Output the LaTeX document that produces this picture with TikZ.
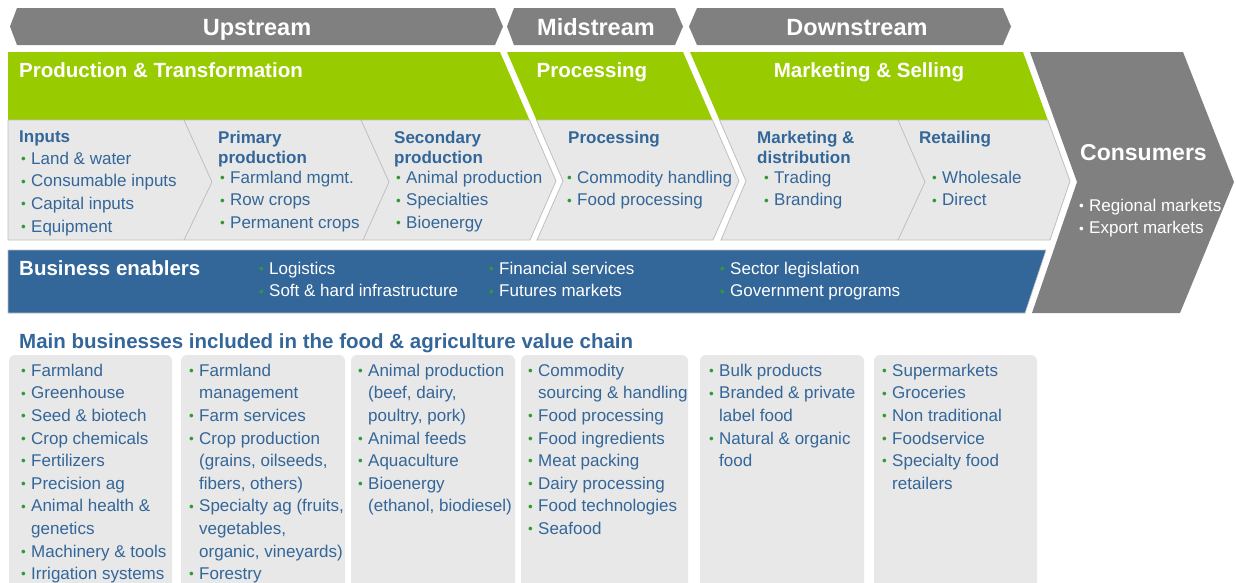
\documentclass[tikz,border=0pt]{standalone}
\usepackage{fontspec}
\setmainfont{Liberation Sans}
\usepackage{tikz}

\definecolor{bandgray}{HTML}{808080}
\definecolor{leafgreen}{HTML}{99CC00}
\definecolor{steelblue}{HTML}{336699}
\definecolor{panelgray}{HTML}{E8E8E8}
\definecolor{edgegray}{HTML}{BFBFBF}
\definecolor{dotgreen}{HTML}{339933}

\newcommand{\smalldot}{\raisebox{0.8pt}{\fontsize{13.5}{13.5}\selectfont\textbullet}}
\newcommand{\bul}{\makebox[10pt][l]{\color{dotgreen}\smalldot}}
\newcommand{\wbul}{\makebox[10pt][l]{\smalldot}}
\newcommand{\ind}{\hspace*{10pt}}

\begin{document}
\begin{tikzpicture}[x=1pt,y=-1pt,line join=miter]
  \tikzstyle{banner} = [fill=bandgray]
  \tikzstyle{stage} = [fill=leafgreen]
  \tikzstyle{stepbox} = [fill=panelgray, draw=edgegray, line width=0.8pt]
  \tikzstyle{bantext} = [text=white, inner sep=0pt, anchor=base, font=\bfseries\fontsize{23.5}{27}\selectfont]
  \tikzstyle{stagetext} = [text=white, inner sep=0pt, anchor=base, font=\bfseries\fontsize{20.5}{24}\selectfont]
  \tikzstyle{head} = [anchor=north west, inner sep=0pt, align=left, text=steelblue,
                      font=\bfseries\fontsize{17}{20}\selectfont]
  \tikzstyle{items} = [anchor=north west, inner sep=0pt, align=left, text=steelblue,
                       font=\fontsize{17}{22.6}\selectfont]
  \tikzstyle{business} = [fill=panelgray, rounded corners=6pt]

  \useasboundingbox (0,0) rectangle (1236,582);

  \fill[banner] (10,26.5) -- (17,8) -- (495,8) -- (503,26.5) -- (495,45) -- (17,45) -- cycle;
  \fill[banner] (507,26.5) -- (514,8) -- (675,8) -- (683,26.5) -- (675,45) -- (514,45) -- cycle;
  \fill[banner] (689,26.5) -- (697,8) -- (1003,8) -- (1011,26.5) -- (1003,45) -- (697,45) -- cycle;

  \fill[stage] (8,52) -- (500,52) -- (529.5,120) -- (8,120) -- cycle;
  \fill[stage] (507,52) -- (683,52) -- (712.5,120) -- (536.5,120) -- cycle;
  \fill[stage] (690,52) -- (1023,52) -- (1047.8,120) -- (719.5,120) -- cycle;

  \path[stepbox] (8,120) -- (529.5,120) -- (556,181) -- (530,240) -- (8,240) -- cycle;
  \path[stepbox] (536.5,120) -- (712.5,120) -- (739,181) -- (713,240) -- (537,240) -- (563,181) -- cycle;
  \path[stepbox] (719.5,120) -- (1047.8,120) -- (1070,181) -- (1050,240) -- (721,240) -- (746,181) -- cycle;
  \draw[edgegray, line width=0.8pt] (184,120) -- (212,182) -- (184,240);
  \draw[edgegray, line width=0.8pt] (361,120) -- (389,182) -- (363,240);
  \draw[edgegray, line width=0.8pt] (898,120) -- (925,182) -- (898,240);

  \path[fill=steelblue, draw=edgegray, line width=0.6pt] (8,250) -- (1046,250) -- (1025,313) -- (8,313) -- cycle;
  \fill[banner] (1030,52) -- (1183,52) -- (1234,182) -- (1180,313) -- (1032,313) -- (1077,182) -- cycle;

  \foreach \x/\w in {9/163, 181/164, 351/164, 521/167, 700/164, 874/163}
    \fill[business] (\x,355) rectangle ++(\w,250);

  \node (upstream) [bantext] at (257,35.5) {Upstream};
  \node (midstream) [bantext] at (596,35.5) {Midstream};
  \node (downstream) [bantext] at (857,35.5) {Downstream};

  \node (production) [stagetext, anchor=base west] at (19,77.5) {Production \& Transformation};
  \node (processing) [stagetext] at (592,77.5) {Processing};
  \node (marketing) [stagetext] at (869,77.5) {Marketing \& Selling};

  \node (inputs) [head] at (19,130.7) {Inputs};
  \node (inputs-list) [items] at (21,151.7)
    {\bul Land \& water\\ \bul Consumable inputs\\ \bul Capital inputs\\ \bul Equipment};
  \node (primary) [head] at (218,130.7) {Primary\\production};
  \node (primary-list) [items] at (220,170.7)
    {\bul Farmland mgmt.\\ \bul Row crops\\ \bul Permanent crops};
  \node (secondary) [head] at (394,130.7) {Secondary\\production};
  \node (secondary-list) [items] at (396,170.7)
    {\bul Animal production\\ \bul Specialties\\ \bul Bioenergy};
  \node (proc) [head] at (568,130.7) {Processing};
  \node (proc-list) [items] at (567,170.7)
    {\bul Commodity handling\\ \bul Food processing};
  \node (distribution) [head] at (757,130.7) {Marketing \&\\distribution};
  \node (distribution-list) [items] at (764,170.7) {\bul Trading\\ \bul Branding};
  \node (retailing) [head] at (919,130.7) {Retailing};
  \node (retailing-list) [items] at (932,170.7) {\bul Wholesale\\ \bul Direct};

  \node (consumers) [text=white, inner sep=0pt, anchor=west,
                     font=\bfseries\fontsize{23}{27}\selectfont] at (1080,153) {Consumers};
  \node (consumers-list) [items, text=white] at (1079,198.7)
    {\wbul Regional markets\\ \wbul Export markets};

  \node (enablers) [stagetext, anchor=base west] at (19,275.5) {Business enablers};
  \node (enablers-a) [items, text=white] at (259,261.7)
    {\bul Logistics\\ \bul Soft \& hard infrastructure};
  \node (enablers-b) [items, text=white] at (489,261.7)
    {\bul Financial services\\ \bul Futures markets};
  \node (enablers-c) [items, text=white] at (720,261.7)
    {\bul Sector legislation\\ \bul Government programs};

  \node (title) [anchor=base west, inner sep=0pt, text=steelblue,
                 font=\bfseries\fontsize{20.5}{24}\selectfont] at (19,348)
    {Main businesses included in the food \& agriculture value chain};

  \node (inputs-biz) [items] at (21,363.7)
    {\bul Farmland\\ \bul Greenhouse\\ \bul Seed \& biotech\\ \bul Crop chemicals\\
     \bul Fertilizers\\ \bul Precision ag\\ \bul Animal health \&\\ \ind genetics\\
     \bul Machinery \& tools\\ \bul Irrigation systems};
  \node (primary-biz) [items] at (189,363.7)
    {\bul Farmland\\ \ind management\\ \bul Farm services\\ \bul Crop production\\
     \ind (grains, oilseeds,\\ \ind fibers, others)\\ \bul Specialty ag (fruits,\\
     \ind vegetables,\\ \ind organic, vineyards)\\ \bul Forestry};
  \node (secondary-biz) [items] at (358,363.7)
    {\bul Animal production\\ \ind (beef, dairy,\\ \ind poultry, pork)\\ \bul Animal feeds\\
     \bul Aquaculture\\ \bul Bioenergy\\ \ind (ethanol, biodiesel)};
  \node (proc-biz) [items] at (528,363.7)
    {\bul Commodity\\ \ind sourcing \& handling\\ \bul Food processing\\ \bul Food ingredients\\
     \bul Meat packing\\ \bul Dairy processing\\ \bul Food technologies\\ \bul Seafood};
  \node (distribution-biz) [items] at (709,363.7)
    {\bul Bulk products\\ \bul Branded \& private\\ \ind label food\\ \bul Natural \& organic\\
     \ind food};
  \node (retailing-biz) [items] at (882,363.7)
    {\bul Supermarkets\\ \bul Groceries\\ \bul Non traditional\\ \bul Foodservice\\
     \bul Specialty food\\ \ind retailers};
\end{tikzpicture}
\end{document}
